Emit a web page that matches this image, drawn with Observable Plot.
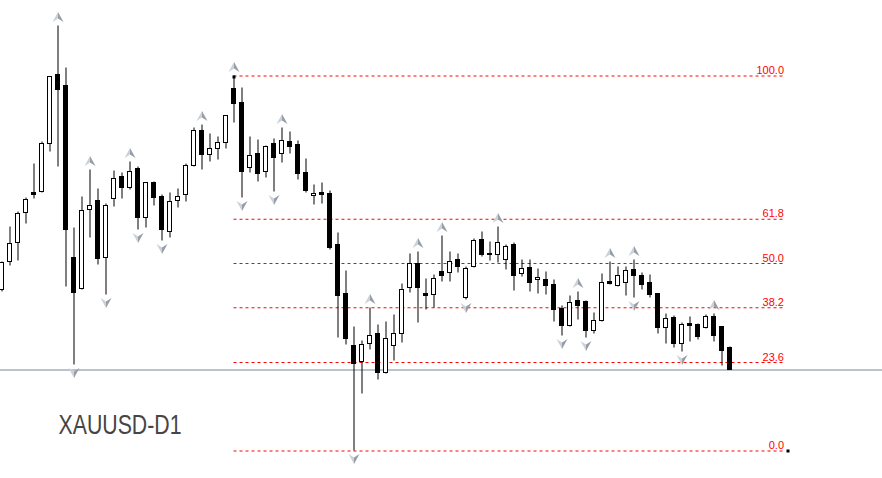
<!DOCTYPE html>
<html><head><meta charset="utf-8">
<script src="https://cdn.jsdelivr.net/npm/d3@7"></script>
<script src="https://cdn.jsdelivr.net/npm/@observablehq/plot@0.6"></script>
<style>html,body{margin:0;padding:0;background:#fff;} svg{display:block}</style>
</head><body><div id="chart"></div>
<script>
// Daily XAUUSD candles (index 0 = leftmost visible bar)
const open  = [1811,1839,1858,1888,1908,1909,1957,2026,2015,1843,1812,1891,1900,1843,1902,1924,1913,1932,1883,1918,1904,1869,1900,1906,1935,1970,1946,1952,1958,2012,1998,1933,1947,1929,1957,1947,1959,1956,1928,1905,1908,1907,1856,1807,1755,1739,1757,1767,1728,1755,1767,1813,1837,1807,1806,1829,1828,1841,1803,1834,1861,1847,1846,1841,1856,1827,1833,1821,1821,1816,1792,1775,1800,1799,1770,1780,1819,1815,1818,1831,1825,1818,1807,1773,1783,1757,1777,1776,1773,1784,1774,1753];
const high  = [1839,1874,1889,1903,1937,1959,2024,2075,2033,1873,1904,1931,1912,1897,1930,1928,1939,1934,1918,1919,1906,1908,1912,1937,1973,1976,1967,1964,1985,2025,2013,1964,1961,1955,1962,1973,1969,1960,1942,1916,1918,1910,1868,1830,1774,1760,1793,1776,1779,1786,1817,1847,1849,1822,1826,1865,1849,1847,1834,1862,1869,1859,1874,1856,1858,1841,1841,1832,1829,1821,1795,1805,1809,1800,1788,1827,1839,1834,1834,1841,1828,1826,1807,1787,1785,1778,1784,1777,1786,1787,1774,1754];
const low   = [1809,1835,1840,1877,1902,1908,1949,1934,1814,1736,1811,1863,1836,1806,1894,1902,1911,1871,1873,1895,1860,1863,1893,1899,1934,1931,1939,1941,1952,1978,1903,1928,1919,1923,1909,1938,1947,1921,1908,1896,1897,1851,1763,1756,1650,1707,1751,1721,1727,1740,1758,1808,1778,1791,1793,1819,1819,1828,1801,1833,1844,1840,1838,1831,1810,1824,1809,1807,1806,1779,1765,1774,1781,1763,1767,1779,1816,1814,1805,1803,1811,1803,1767,1757,1753,1749,1759,1761,1772,1759,1735,1731];
const close = [1838,1857,1887,1901,1906,1957,2024,2011,1871,1808,1890,1895,1842,1895,1922,1913,1929,1883,1918,1903,1871,1899,1904,1935,1970,1946,1952,1958,1985,1997,1929,1945,1927,1954,1943,1960,1954,1927,1910,1907,1906,1853,1805,1762,1737,1756,1765,1728,1762,1767,1811,1837,1813,1805,1822,1825,1839,1834,1832,1860,1846,1846,1858,1854,1825,1832,1818,1823,1815,1791,1775,1798,1795,1770,1780,1818,1817,1825,1830,1825,1816,1806,1773,1782,1757,1776,1775,1764,1784,1765,1750,1731];

// Bill Williams fractals (bar indexes)
const upFractals   = [7,11,16,25,29,35,46,52,55,62,72,76,79,89];
const downFractals = [9,13,17,20,30,34,44,58,70,73,79,85];

// Fibonacci retracement: from high of bar 29 to low of bar 44, drawn to bar 98
const fibLevels = [0, 23.6, 38.2, 50, 61.8, 100];
const fibLabels = ["0.0", "23.6", "38.2", "50.0", "61.8", "100.0"];
const fibHighBar = 29, fibLowBar = 44, fibEndBar = 98;

const symbolName = "XAUUSD-D1";

const candles = open.map((o, i) => ({i, open: o, high: high[i], low: low[i], close: close[i]}));
const bulls = candles.filter(d => d.close >= d.open);
const bears = candles.filter(d => d.close < d.open);
const fibHi = high[fibHighBar], fibLo = low[fibLowBar];
const fib = fibLevels.map((lv, k) => ({label: fibLabels[k], price: fibLo + (fibHi - fibLo) * lv / 100}));
const lastClose = close[close.length - 1];

const upL = {draw(c){ c.moveTo(0,-5); c.lineTo(0,1.5); c.lineTo(-5.5,5); c.closePath(); }};
const upR = {draw(c){ c.moveTo(0,-5); c.lineTo(5.5,5); c.lineTo(0,1.5); c.closePath(); }};
const dnL = {draw(c){ c.moveTo(0,5); c.lineTo(-5.5,-5); c.lineTo(0,-1.5); c.closePath(); }};
const dnR = {draw(c){ c.moveTo(0,5); c.lineTo(0,-1.5); c.lineTo(5.5,-5); c.closePath(); }};
const lightArrow = "#c9d1dc", darkArrow = "#989ca3";

const chart = Plot.plot({
  width: 882, height: 478,
  margin: 0,
  style: {background: "white", overflow: "visible"},
  x: {domain: [0, 110], range: [1.5, 881.5], axis: null},
  y: {domain: [1622, 2100], range: [478.5, 0.5], axis: null},
  marks: [
    Plot.ruleY(fib, {y: "price", x1: fibHighBar, x2: fibEndBar, stroke: "#ff0000", strokeWidth: 1, strokeDasharray: "3,3"}),
    Plot.text(fib, {x: fibEndBar, y: "price", text: "label", textAnchor: "end", lineAnchor: "bottom", dx: -2, dy: -2,
      fill: "#ff0000", fontSize: 11, fontFamily: "'Liberation Sans Narrow', 'Arial Narrow', 'Liberation Sans', Arial, sans-serif"}),
    Plot.ruleY([lastClose], {stroke: "#778899", strokeWidth: 1}),
    Plot.ruleX(candles, {x: "i", y1: "low", y2: "high", stroke: "black", strokeWidth: 1}),
    Plot.rect(bulls, {x1: d => d.i - 0.25, x2: d => d.i + 0.25, y1: "open", y2: "close", fill: "white", stroke: "black", strokeWidth: 1}),
    Plot.rect(bears, {x1: d => d.i - 0.25, x2: d => d.i + 0.25, y1: "open", y2: "close", fill: "black", stroke: "black", strokeWidth: 1}),
    Plot.dot([{i: fibHighBar, p: fibHi}], {x: "i", y: "p", symbol: "square", r: 1.7, fill: "black", dy: 1}),
    Plot.dot([{i: fibEndBar, p: fibLo}], {x: "i", y: "p", symbol: "square", r: 1.7, fill: "black", dx: 2}),
    Plot.dot(upFractals, {x: d => d, y: d => high[d], dy: -9, symbol: upL, fill: lightArrow}),
    Plot.dot(upFractals, {x: d => d, y: d => high[d], dy: -9, symbol: upR, fill: darkArrow}),
    Plot.dot(downFractals, {x: d => d, y: d => low[d], dy: 8, symbol: dnL, fill: lightArrow}),
    Plot.dot(downFractals, {x: d => d, y: d => low[d], dy: 8, symbol: dnR, fill: darkArrow}),
    Plot.text([symbolName], {frameAnchor: "top-left", dx: 58, dy: 414, textAnchor: "start", lineAnchor: "top",
      fontSize: 27, fill: "#454545", fontFamily: "'Liberation Sans', Arial, sans-serif"})
  ]
});
document.getElementById("chart").appendChild(chart);
d3.select(chart).selectAll("text").filter(function(){ return this.textContent === symbolName; })
  .attr("textLength", 123).attr("lengthAdjust", "spacingAndGlyphs");
</script>
</body></html>
